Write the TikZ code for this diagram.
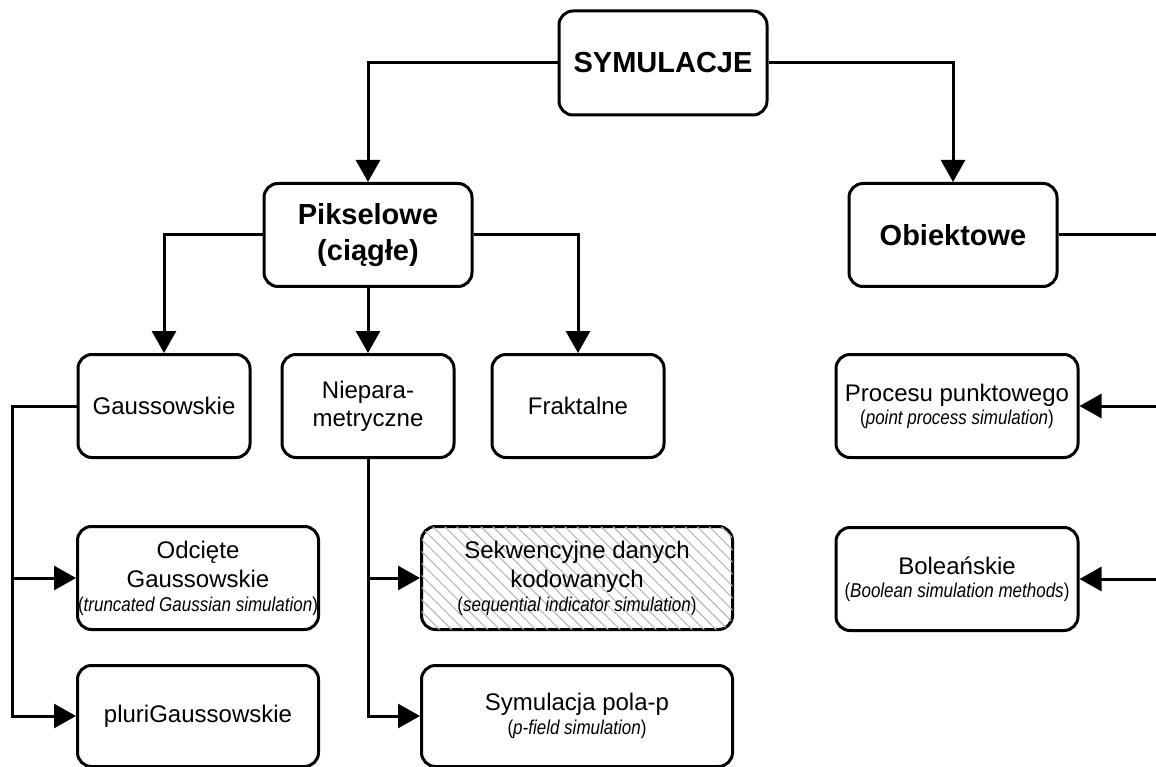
\documentclass[tikz,border=0pt]{standalone}
\usepackage{fontspec}
\setmainfont{Liberation Sans}
\newfontfamily\narrowfont{Liberation Sans}[FakeStretch=0.85]
\usetikzlibrary{arrows.meta,positioning,patterns.meta}
\newcommand{\engl}[1]{{\fontsize{20}{24}\narrowfont(\textit{#1})}}
\tikzset{
  box/.style     = { draw, line width=3pt, rounded corners=14pt, align=center, inner sep=0pt, fill=white },
  toploc/.style  = { box, minimum width=208pt, minimum height=104pt, font=\fontsize{29}{36}\selectfont\bfseries },
  mainloc/.style = { box, minimum width=208pt, minimum height=103pt, font=\fontsize{29}{36}\selectfont\bfseries },
  subloc/.style  = { box, minimum width=172pt, minimum height=103pt, font=\fontsize{24}{28}\selectfont },
  leafloc/.style = { box, minimum width=#1, minimum height=103pt, font=\fontsize{24}{29}\selectfont },
  hatchloc/.style = { leafloc=#1, postaction={pattern={Lines[angle=-45,distance=8.5pt,line width=1.1pt]}, pattern color=gray!55} }
}

\begin{document}
\begin{tikzpicture}[x=1pt,y=-1pt,line width=3pt,>={Triangle[length=22pt,width=24pt]},on grid]
  \fill[white] (0,0) rectangle (1156,767);
  \useasboundingbox (0,0) rectangle (1156,767);
  % 0: symulacje
  \node[toploc] (sym) at (663,63) {SYMULACJE};
  % 1: pikselowe / obiektowe
  \node[mainloc] (pix) at (368,235) {Pikselowe\\(ciągłe)};
  \node[mainloc] (obj) at (953,235) {Obiektowe};
  % 2: metody pikselowe
  \node[subloc, below=171pt of pix] (niep) {Niepara-\\metryczne};
  \node[subloc, left=204pt of niep] (gauss) {Gaussowskie};
  \node[subloc, right=210pt of niep] (frak) {Fraktalne};
  % 3: liscie
  \node[leafloc=241pt] (odc) at (198,578) {Odcięte\\Gaussowskie\\[-5pt]\engl{truncated Gaussian simulation}};
  \node[leafloc=241pt, minimum height=101pt] (pluri) at (198,716) {pluriGaussowskie};
  \node[hatchloc=311pt] (sekw) at (577,578) {Sekwencyjne danych\\kodowanych\\[-5pt]\engl{sequential indicator simulation}};
  \node[leafloc=311pt, minimum height=101pt] (polap) at (577,716) {Symulacja pola-p\\[-5pt]\engl{p-field simulation}};
  \node[leafloc=242pt] (proc) at (957,406) {Procesu punktowego\\[-6pt]\engl{point process simulation}};
  \node[leafloc=242pt] (bool) at (957,579) {Boleańskie\\[-6pt]\engl{Boolean simulation methods}};
  \coordinate (gbus) at (12,406);
  \coordinate (obus) at (1160,235);
  \draw[->] (sym.west) -| (pix.north);
  \draw[->] (sym.east) -| (obj.north);
  \draw[->] (pix.west) -| (gauss.north);
  \draw[->] (pix.south) -- (niep.north);
  \draw[->] (pix.east) -| (frak.north);
  \draw[->] (gauss.west) -- (gbus) |- (pluri.west);
  \draw[->] (gbus |- odc.west) -- (odc.west);
  \draw[->] (niep.south) |- (polap.west);
  \draw[->] (niep.south |- sekw.west) -- (sekw.west);
  \draw (obj.east) -- (obus);
  \draw[->] (obus |- proc.east) -- (proc.east);
  \draw[->] (obus |- bool.east) -- (bool.east);
\end{tikzpicture}
\end{document}
